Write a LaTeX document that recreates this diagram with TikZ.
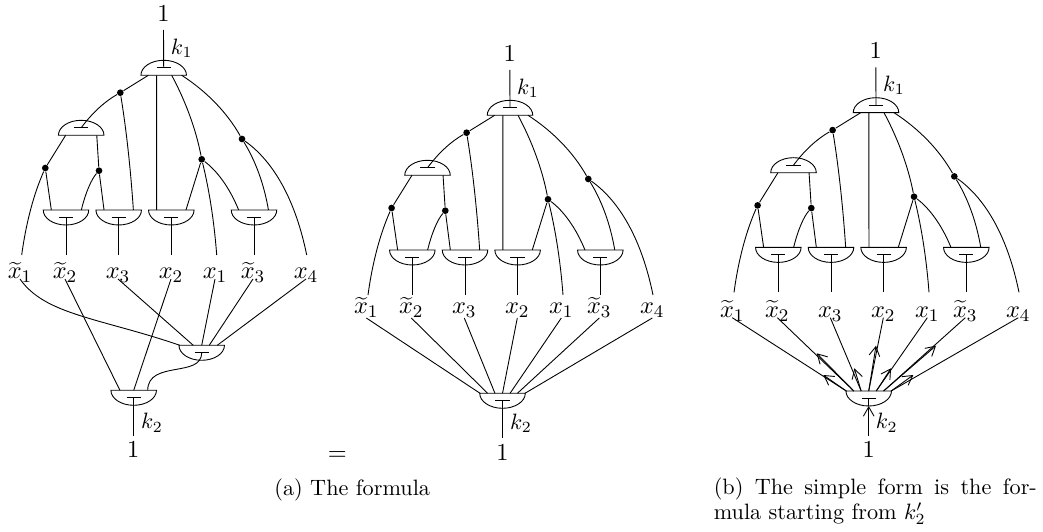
\documentclass[tikz,border=0pt]{standalone}
\usetikzlibrary{arrows.meta}

\tikzset{
    gatebox/.style = {minimum width=20.5pt, minimum height=6.75pt, inner sep=0pt, outer sep=0pt},
    joint/.style = {circle, fill=black, inner sep=0pt, minimum size=3pt},
    varlabel/.style = {anchor=base, inner sep=0pt, font=\fontsize{10.95}{13}\selectfont},
    keylabel/.style = {inner sep=0pt},
    tipped/.style = {-{Straight Barb[length=4.2pt,width=4.8pt]}}
}

% flat edge below, stem comes from above
\newcommand{\gateup}[2]{
    \node[gatebox, anchor=south] (#1) at (#2) {};
    \draw (#1.south west) arc[start angle=180, end angle=0, x radius=10.25pt, y radius=6.75pt] -- cycle;
    \draw ([xshift=-3.2pt]#1.center) -- ([xshift=3.2pt]#1.center);
}
% flat edge above, stem leaves downwards
\newcommand{\gatedown}[2]{
    \node[gatebox, anchor=north] (#1) at (#2) {};
    \draw (#1.north west) arc[start angle=180, end angle=360, x radius=10.25pt, y radius=6.75pt] -- cycle;
    \draw ([xshift=-3.2pt]#1.center) -- ([xshift=3.2pt]#1.center);
}

% upper part, the argument is the height of the variable row
\newcommand{\formulatree}[1]{
    \node[varlabel] (num) at (163.5,21.5) {$1$};
    \coordinate (numend) at (163.5,30);
    \node[keylabel] (key) at (181.7,48) {$k_1$};
    \gateup{top}{163.7,75.3}
    \gateup{mid}{81.2,135.3}
    \gatedown{lowa}{66,210}
    \gatedown{lowb}{118.7,210}
    \gatedown{lowc}{171.3,210}
    \gatedown{lowd}{254,210}

    \node[joint] (ja) at (120.3,92.7) {};
    \node[joint] (jb) at (201.7,159.3) {};
    \node[joint] (jc) at (242,139) {};
    \node[joint] (jd) at (45.3,168) {};
    \node[joint] (je) at (99,170.7) {};

    \node[varlabel] (xta) at (20,#1) {$\widetilde{x}_1$};
    \node[varlabel] (xtb) at (65,#1) {$\widetilde{x}_2$};
    \node[varlabel] (xc) at (118,#1) {$x_3$};
    \node[varlabel] (xb) at (171,#1) {$x_2$};
    \node[varlabel] (xa) at (215,#1) {$x_1$};
    \node[varlabel] (xtc) at (253,#1) {$\widetilde{x}_3$};
    \node[varlabel] (xd) at (306,#1) {$x_4$};
    \coordinate (enda) at (21.7,255);
    \coordinate (endb) at (216.7,255);
    \coordinate (endc) at (306.7,255);

    \draw (numend) -- (top.center);
    \draw ([xshift=-6.9pt]top.south) -- (ja);
    \draw (ja) .. controls (105.6,101) and (92.6,112.3) .. (mid.center);
    \draw (ja) .. controls (126.3,129.5) and (130.6,168.7) .. ([xshift=6.6pt]lowb.north);
    \draw ([xshift=-3.2pt]top.south) -- ([xshift=-6.6pt]lowc.north);
    \draw ([xshift=3.6pt]top.south) .. controls (185.9,101.8) and (196,129.7) .. (jb);
    \draw (jb) .. controls (209.2,189.8) and (214.2,221.7) .. (endb);
    \draw (jb) -- ([xshift=6.6pt]lowc.north);
    \draw (jb) .. controls (217.2,170.9) and (229.6,187.8) .. ([xshift=-6.9pt]lowd.north);
    \draw ([xshift=8.1pt]top.south) .. controls (207.2,91.8) and (227.3,113) .. (jc);
    \draw (jc) .. controls (255,160) and (263.9,183.3) .. ([xshift=6.5pt]lowd.north);
    \draw (jc) .. controls (274,161.7) and (295.6,200.7) .. (endc);
    \draw ([xshift=-7pt]mid.south) -- (jd);
    \draw (jd) .. controls (34,193.3) and (26.1,222.3) .. (enda);
    \draw (jd) -- ([xshift=-6.6pt]lowa.north);
    \draw ([xshift=7pt]mid.south) -- (je);
    \draw (je) -- ([xshift=-6.6pt]lowb.north);
    \draw (je) .. controls (91.7,178.9) and (85.7,192) .. ([xshift=6.9pt]lowa.north);
    \coordinate (stema) at (66,255);
    \coordinate (stemb) at (118.7,255);
    \coordinate (stemc) at (171.3,255);
    \coordinate (stemd) at (254,255);
    \draw (lowa.center) -- (stema);
    \draw (lowb.center) -- (stemb);
    \draw (lowc.center) -- (stemc);
    \draw (lowd.center) -- (stemd);
}

\begin{document}
\begin{tikzpicture}[x=0.45pt, y=-0.45pt]
    \useasboundingbox (0,0) rectangle (1043,532);

    \begin{scope}[name prefix=a-]
        \formulatree{279}
    \end{scope}
    \begin{scope}[name prefix=b-, shift={(346.3,40)}]
        \formulatree{274}
    \end{scope}
    \begin{scope}[name prefix=c-, shift={(712.3,37.4)}]
        \formulatree{280.3}
    \end{scope}

    % left side
    \gatedown{fan}{201.7,345.3}
    \gatedown{abot}{133.7,390.3}
    \coordinate (aend) at (133.7,435.7);
    \node[varlabel] (anum) at (133.3,457.3) {$1$};
    \node[keylabel] (akey) at (152,422.7) {$k_2$};
    \draw (a-xta.base) .. controls (45,315) and (100,318) .. ([xshift=-9.8pt]fan.north);
    \draw (a-xtb.base) -- ([xshift=-6.2pt]abot.north);
    \draw (a-xc.base) -- ([xshift=-3.8pt]fan.north);
    \draw (a-xb.base) -- (abot.north);
    \draw (a-xa.base) -- (fan.north);
    \draw (a-xtc.base) -- ([xshift=3.4pt]fan.north);
    \draw (a-xd.base) -- ([xshift=7pt]fan.north);
    \draw (fan.center) .. controls (201.7,378) and (148,360) .. ([xshift=6.3pt]abot.north);
    \draw (abot.center) -- (aend);

    \node[varlabel] (equal) at (337.3,460) {$=$};

    % middle
    \gatedown{bbot}{502.5,393.3}
    \coordinate (bend) at (502.5,438.3);
    \node[varlabel] (bnum) at (502.5,460.7) {$1$};
    \node[keylabel] (bkey) at (521,423.3) {$k_2$};
    \draw ([yshift=-1.8pt]b-xta.base) -- ([xshift=-10.1pt]bbot.north);
    \draw ([yshift=-1.8pt]b-xtb.base) -- ([xshift=-6.7pt]bbot.north);
    \draw ([yshift=-1.8pt]b-xc.base) -- ([xshift=-3.4pt]bbot.north);
    \draw ([yshift=-1.8pt]b-xb.base) -- (bbot.north);
    \draw ([yshift=-1.8pt]b-xa.base) -- ([xshift=3.4pt]bbot.north);
    \draw ([yshift=-1.8pt]b-xtc.base) -- ([xshift=6.7pt]bbot.north);
    \draw ([yshift=-1.8pt]b-xd.base) -- ([xshift=10.1pt]bbot.north);
    \draw (bbot.center) -- (bend);

    % right side, the same with the arrows
    \gatedown{cbot}{868.7,391}
    \coordinate (cend) at (868.7,435.7);
    \node[varlabel] (cnum) at (868.7,457.3) {$1$};
    \node[keylabel] (ckey) at (886.7,422.7) {$k_2$};
    \coordinate (tipa) at (823.3,375);
    \coordinate (tipb) at (816.7,353.3);
    \coordinate (tipc) at (854.3,368.3);
    \coordinate (tipd) at (876,345.7);
    \coordinate (tipe) at (891,368.3);
    \coordinate (tipf) at (936,345.7);
    \coordinate (tipg) at (913.3,375);
    \draw (c-xta.base) -- ([xshift=-10.1pt]cbot.north);
    \draw (c-xtb.base) -- ([xshift=-6.7pt]cbot.north);
    \draw (c-xc.base) -- ([xshift=-3.4pt]cbot.north);
    \draw (c-xb.base) -- (cbot.north);
    \draw (c-xa.base) -- ([xshift=3.4pt]cbot.north);
    \draw (c-xtc.base) -- ([xshift=6.7pt]cbot.north);
    \draw (c-xd.base) -- ([xshift=10.1pt]cbot.north);
    \draw[tipped] ([xshift=-10.1pt]cbot.north) -- (tipa);
    \draw[tipped] ([xshift=-6.7pt]cbot.north) -- (tipb);
    \draw[tipped] ([xshift=-3.4pt]cbot.north) -- (tipc);
    \draw[tipped] (cbot.north) -- (tipd);
    \draw[tipped] ([xshift=3.4pt]cbot.north) -- (tipe);
    \draw[tipped] ([xshift=6.7pt]cbot.north) -- (tipf);
    \draw[tipped] ([xshift=10.1pt]cbot.north) -- (tipg);
    \draw[tipped] (cend) -- (cbot.south);
    \draw (cbot.center) -- (cbot.south);

    % captions
    \node[anchor=base west, inner sep=0pt] (capa) at (274,495) {(a) The formula};
    \node[anchor=north west, inner sep=0pt, text width=145.4pt, align=justify,
        font=\fontsize{10}{11.25}\selectfont] (capb) at (713.3,477) {(b) The simple form is the formula starting from $k_2'$};
\end{tikzpicture}
\end{document}
